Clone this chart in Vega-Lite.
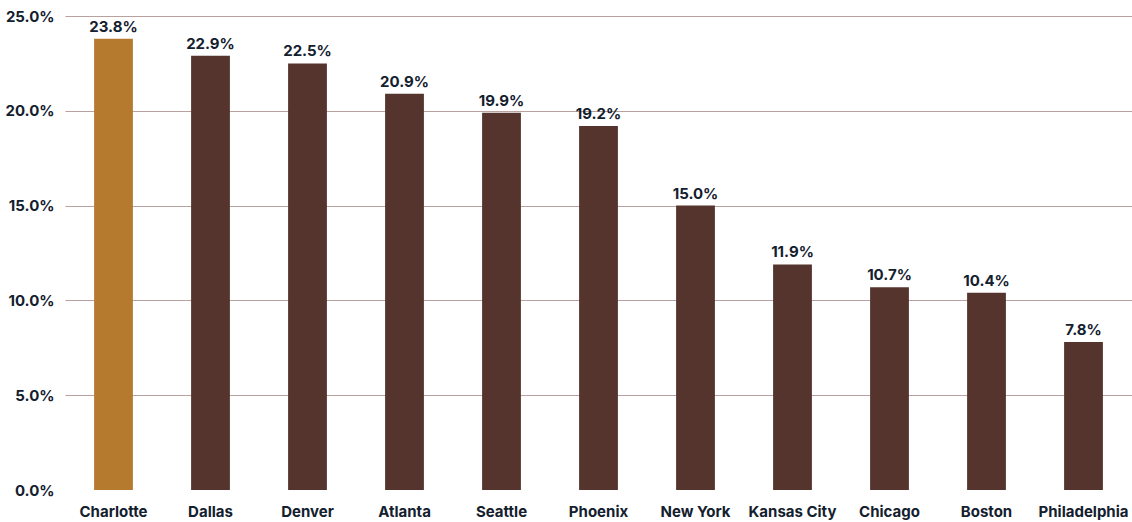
{
  "$schema": "https://vega.github.io/schema/vega-lite/v6.json",
  "width": 1067,
  "height": 474,
  "autosize": {"type": "none"},
  "padding": {"left": 65, "top": 16, "right": 0, "bottom": 32},
  "background": "white",
  "config": {"view": {"stroke": null}, "font": "Inter"},
  "data": {"values": [
    {"city": "Charlotte", "value": 23.8, "hl": "yes"},
    {"city": "Dallas", "value": 22.9, "hl": "no"},
    {"city": "Denver", "value": 22.5, "hl": "no"},
    {"city": "Atlanta", "value": 20.9, "hl": "no"},
    {"city": "Seattle", "value": 19.9, "hl": "no"},
    {"city": "Phoenix", "value": 19.2, "hl": "no"},
    {"city": "New York", "value": 15.0, "hl": "no"},
    {"city": "Kansas City", "value": 11.9, "hl": "no"},
    {"city": "Chicago", "value": 10.7, "hl": "no"},
    {"city": "Boston", "value": 10.4, "hl": "no"},
    {"city": "Philadelphia", "value": 7.8, "hl": "no"}
  ]},
  "transform": [{"calculate": "format(datum.value, '.1f') + '%'", "as": "label"}],
  "encoding": {
    "x": {"field": "city", "type": "nominal", "sort": null,
      "scale": {"paddingInner": 0.6, "paddingOuter": 0.3},
      "axis": {"title": null, "labelAngle": 0, "domain": false, "ticks": false,
        "labelFont": "Inter", "labelFontWeight": "bold", "labelFontSize": 15,
        "labelColor": "#13202e", "labelPadding": 14}},
    "y": {"field": "value", "type": "quantitative",
      "scale": {"domain": [0, 25], "nice": false},
      "axis": {"title": null, "values": [0, 5, 10, 15, 20, 25],
        "labelExpr": "format(datum.value, '.1f') + '%'",
        "domain": false, "ticks": false, "gridColor": "#b9a29e", "gridWidth": 1,
        "gridOpacity": {"condition": {"test": "datum.value == 0", "value": 0}, "value": 1},
        "labelFont": "Inter", "labelFontWeight": "bold", "labelFontSize": 15,
        "labelColor": "#13202e", "labelPadding": 11}}
  },
  "layer": [
    {"mark": {"type": "bar"},
      "encoding": {"color": {"field": "hl", "type": "nominal",
        "scale": {"domain": ["yes", "no"], "range": ["#b67a2f", "#54342d"]}, "legend": null}}},
    {"mark": {"type": "text", "baseline": "bottom", "dy": -4, "font": "Inter", "fontWeight": "bold", "fontSize": 15, "color": "#13202e"},
      "encoding": {"text": {"field": "label", "type": "nominal"}}}
  ]
}
